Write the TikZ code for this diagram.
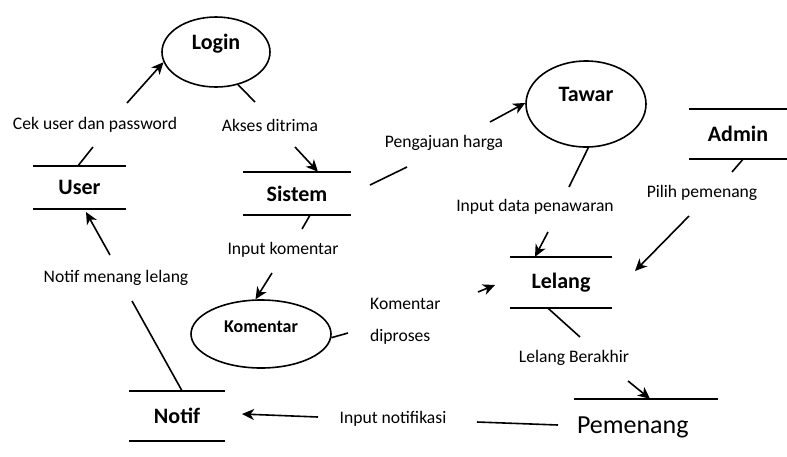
\documentclass[tikz,border=0pt]{standalone}
\usepackage{fontspec}
\setmainfont{Carlito}
\usetikzlibrary{shapes.geometric,arrows.meta}
\tikzset{
  every node/.style={inner sep=0pt},
  proc/.style={ellipse, draw, line width=1.6pt, font=\fontsize{22}{26}\selectfont\bfseries},
  storebox/.style={font=\fontsize{22}{26}\selectfont\bfseries},
  storeline/.style={line width=1.8pt},
  flowlabel/.style={font=\fontsize{17.6}{20}\selectfont},
  conn/.style={line width=1.6pt},
  arr/.style={line width=1.6pt, -{Stealth[length=12pt,width=11pt,inset=3.5pt]}}
}
\begin{document}
\begin{tikzpicture}[x=1pt,y=-1pt]
\useasboundingbox (0,0) rectangle (787,456);
\fill[white] (0,0) rectangle (787,456);
% processes
\node[proc, minimum width=108pt, minimum height=70pt, text height=16pt, text depth=22pt] (login) at (216,52) {Login};
\node[proc, minimum width=120pt, minimum height=86pt, text height=16pt, text depth=22pt] (tawar) at (586,104) {Tawar};
\node[proc, minimum width=140pt, minimum height=68pt, text height=13pt, text depth=17pt, font=\fontsize{18}{22}\selectfont\bfseries] (komentar) at (261,334) {Komentar};
% stores
\node[storebox, minimum width=93pt, minimum height=43pt] (user) at (79.5,187.5) {User};
\node[storebox, minimum width=108pt, minimum height=43pt] (sistem) at (297,193.5) {Sistem};
\node[storebox, minimum width=98pt, minimum height=50pt] (admin) at (738,134) {Admin};
\node[storebox, minimum width=102pt, minimum height=51pt] (lelang) at (561,282.5) {Lelang};
\node[storebox, minimum width=96pt, minimum height=50pt] (notif) at (177,416) {Notif};
\node[storebox, font=\fontsize{26}{30}\selectfont, text width=138pt, inner xsep=3pt, align=left, minimum height=56pt] (pemenang) at (646,427) {Pemenang};
\foreach \s in {user,sistem,admin,lelang,notif}{
  \draw[storeline] (\s.north west) -- (\s.north east);
  \draw[storeline] (\s.south west) -- (\s.south east);
}
\draw[storeline] (pemenang.north west) -- (pemenang.north east);
% labels
\node[flowlabel] (lcek) at (95,125) {Cek user dan password};
\node[flowlabel] (lakses) at (270,125) {Akses ditrima};
\node[flowlabel] (lpeng) at (444,143) {Pengajuan harga};
\node[flowlabel] (linput) at (535,207) {Input data penawaran};
\node[flowlabel] (lpilih) at (702,193) {Pilih pemenang};
\node[flowlabel] (lkomin) at (283,250) {Input komentar};
\node[flowlabel] (lnotif) at (116,278) {Notif menang lelang};
\node[flowlabel, align=left, anchor=west, font=\fontsize{17.6}{32}\selectfont] (lkomdip) at (370,321) {Komentar\\diproses};
\node[flowlabel] (lberakhir) at (574,358) {Lelang Berakhir};
\node[flowlabel] (lnotifik) at (393,419) {Input notifikasi};
% free ends
\coordinate (c1) at (93,147);
\coordinate (c2) at (127,103);
\coordinate (c3) at (255,102);
\coordinate (c4) at (295,147);
\coordinate (c5a) at (370,185);
\coordinate (c5b) at (407,167);
\coordinate (c6) at (490,122);
\coordinate (c7) at (569,187);
\coordinate (c8) at (548,232);
\coordinate (c9) at (732,172);
\coordinate (c10a) at (689,216);
\coordinate (c10b) at (635,271);
\coordinate (c11) at (348,333);
\coordinate (c12a) at (478,292);
\coordinate (c12b) at (495,285);
\coordinate (c13) at (302,229);
\coordinate (c14) at (272,273);
\coordinate (c15) at (132,301);
\coordinate (c16a) at (110,255);
\coordinate (c16b) at (86,212);
\coordinate (c17a) at (477,422);
\coordinate (c17b) at (558,425);
\coordinate (c18a) at (318,417);
\coordinate (c18b) at (242,414);
\coordinate (c19) at (580,337);
\coordinate (c20) at (628,381);
% connectors
\draw[conn] ([xshift=-1.5pt]user.north) -- (c1);
\draw[arr] (c2) -- (login.191);
\draw[conn] (login.-56) -- (c3);
\draw[arr] (c4) -- ([xshift=21pt]sistem.north);
\draw[conn] (c5a) -- (c5b);
\draw[arr] (c6) -- (tawar.179);
\draw[conn] (tawar.273) -- (c7);
\draw[arr] (c8) -- ([xshift=-26pt]lelang.north);
\draw[conn] ([xshift=5pt]admin.south) -- (c9);
\draw[arr] (c10a) -- (c10b);
\draw[conn] (komentar.357) -- (c11);
\draw[arr] (c12a) -- (c12b);
\draw[conn] ([xshift=13pt]sistem.south) -- (c13);
\draw[arr] (c14) -- (komentar.99);
\draw[conn] (c15) -- ([xshift=5pt]notif.north);
\draw[arr] (c16a) -- (c16b);
\draw[conn] (c17b) -- (c17a);
\draw[arr] (c18a) -- (c18b);
\draw[conn] ([xshift=-13pt]lelang.south) -- (c19);
\draw[arr] (c20) -- ([xshift=4pt]pemenang.north);
\end{tikzpicture}
\end{document}
